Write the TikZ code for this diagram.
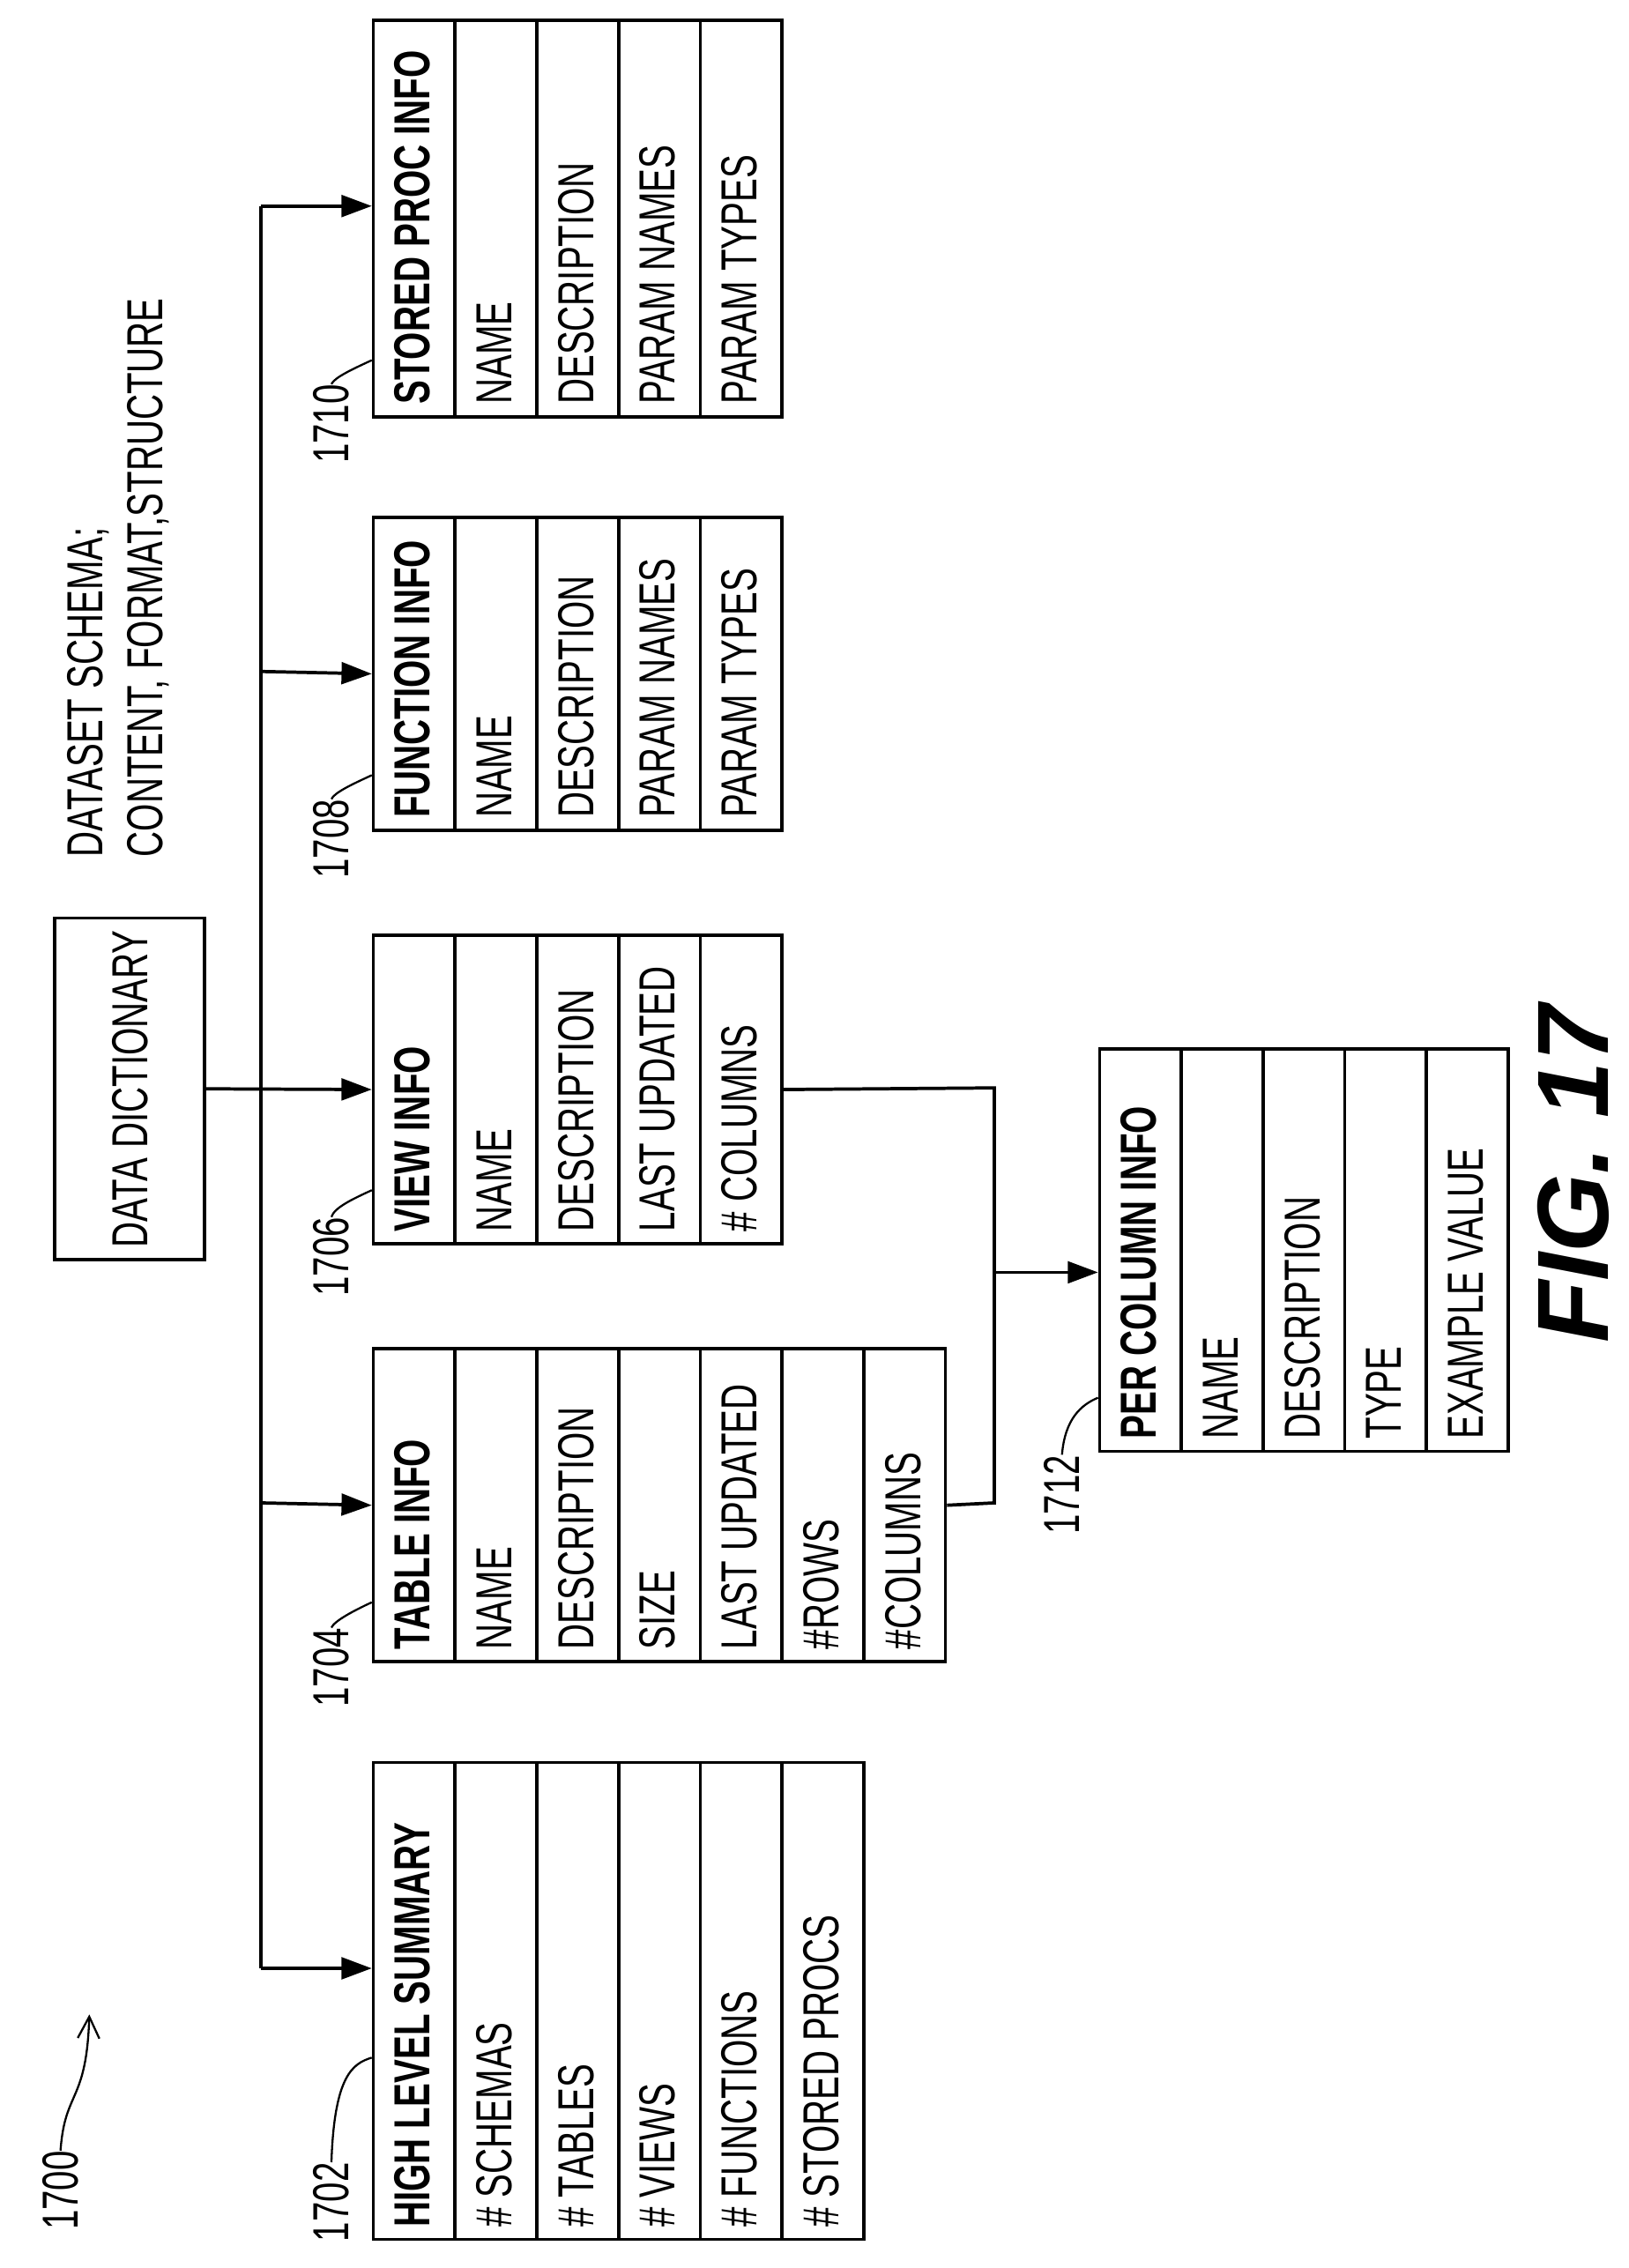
\documentclass[tikz,border=0pt]{standalone}
\usepackage{fontspec}
\setmainfont{Liberation Sans}
\newfontfamily\narrowf[FakeStretch=0.7]{Liberation Sans}
\usetikzlibrary{arrows.meta}
\tikzset{x=0.02cm,y=-0.02cm,
 cell/.style={rotate=90,anchor=west,inner sep=0pt,font=\narrowf\fontsize{20}{24}\selectfont},
 box/.style={draw,line width=1.3pt,inner sep=0pt,anchor=north west},
 ln/.style={line width=1.3pt},
 arr/.style={ln,-{Triangle[length=0.42cm,width=0.3cm]}},
 refl/.style={rotate=90,inner sep=0pt,font=\fontsize{20}{24}\selectfont\narrowf},
 lead/.style={line width=0.8pt}}
\newcommand\dtab[5]{%
 \foreach \t [count=\i] in {#5} {%
  \pgfmathsetmacro\xa{#2+(\i-1)*56.7}%
  \ifnum\i=1 \def\ff{\bfseries}\else\def\ff{}\fi
  \node[box,minimum width=56.7*0.02cm,minimum height={(#4-#3)*0.02cm}] (#1-\i) at (\xa,#3) {};
  \node[cell,font=\narrowf\fontsize{20}{24}\selectfont\ff] (#1-\i-t) at (\xa+28.35,#4-7) {\t};
 }}
\begin{document}
\begin{tikzpicture}
\useasboundingbox (0,0) rectangle (1130,1574);
\dtab{a}{258}{1222}{1553}{HIGH LEVEL SUMMARY,\# SCHEMAS,\# TABLES,\# VIEWS,\# FUNCTIONS,\# STORED PROCS}
\dtab{b}{258}{935}{1152}{TABLE INFO,NAME,DESCRIPTION,SIZE,LAST UPDATED,\#ROWS,\#COLUMNS}
\dtab{c}{258}{648}{862}{VIEW INFO,NAME,DESCRIPTION,LAST UPDATED,\# COLUMNS}
\dtab{d}{258}{358}{575}{FUNCTION INFO,NAME,DESCRIPTION,PARAM NAMES,PARAM TYPES}
\dtab{e}{258}{13}{288}{STORED PROC INFO,NAME,DESCRIPTION,PARAM NAMES,PARAM TYPES}
\dtab{f}{762}{727}{1006}{PER COLUMN INFO,NAME,DESCRIPTION,TYPE,EXAMPLE VALUE}
\node[box,minimum width=104*0.02cm,minimum height=237*0.02cm] (dd) at (37,636) {};
\node[cell,anchor=center] (ddt) at (dd.center) {DATA DICTIONARY};
\node[cell,anchor=south west,align=left] (ds) at (118,595) {DATASET SCHEMA;\\CONTENT, FORMAT,STRUCTURE};
% bus
\coordinate (bt) at (181,143);
\coordinate (bb) at (181,1366);
\draw[ln] (bt) -- (bb);
\draw[arr] (dd.east) -- (c-1.west);
\draw[arr] (bt) -- (bt -| e-1.west);
\draw[arr] (181,466) -- (d-1.west);
\draw[arr] (181,1043) -- (b-1.west);
\draw[arr] (bb) -- (bb -| a-1.west);
\coordinate (j) at (690,883);
\draw[ln] (c-5.east) -- (690,755) -- (690,1043) -- (b-7.east);
\draw[arr] (j) -- (j -| f-1.west);
% reference labels
\node[refl,anchor=west] (l1702) at (230,1556) {1702};
\draw[lead] (l1702.east) .. controls (232,1440) and (245,1432) .. (258,1428);
\node[refl,anchor=west] (l1704) at (230,1185) {1704};
\draw[lead] (l1704.east) .. controls (232,1125) and (245,1118) .. (258,1112);
\node[refl,anchor=west] (l1706) at (230,900) {1706};
\draw[lead] (l1706.east) .. controls (232,838) and (245,832) .. (258,826);
\node[refl,anchor=west] (l1708) at (230,610) {1708};
\draw[lead] (l1708.east) .. controls (232,550) and (245,544) .. (258,538);
\node[refl,anchor=west] (l1710) at (230,322) {1710};
\draw[lead] (l1710.east) .. controls (232,262) and (245,256) .. (258,250);
\node[refl,anchor=west] (l1712) at (737,1065) {1712};
\draw[lead] (l1712.east) .. controls (739,985) and (750,975) .. (762,970);
\node[refl,anchor=west] (l1700) at (42,1548) {1700};
\draw[lead,-{Straight Barb[length=0.3cm,width=0.3cm,open]}] (l1700.east) .. controls (45,1450) and (60,1460) .. (62,1398);
\node[rotate=90,inner sep=0pt,font=\fontsize{40}{48}\selectfont\bfseries\itshape] (fig) at (1092,815) {FIG. 17};
\end{tikzpicture}
\end{document}
